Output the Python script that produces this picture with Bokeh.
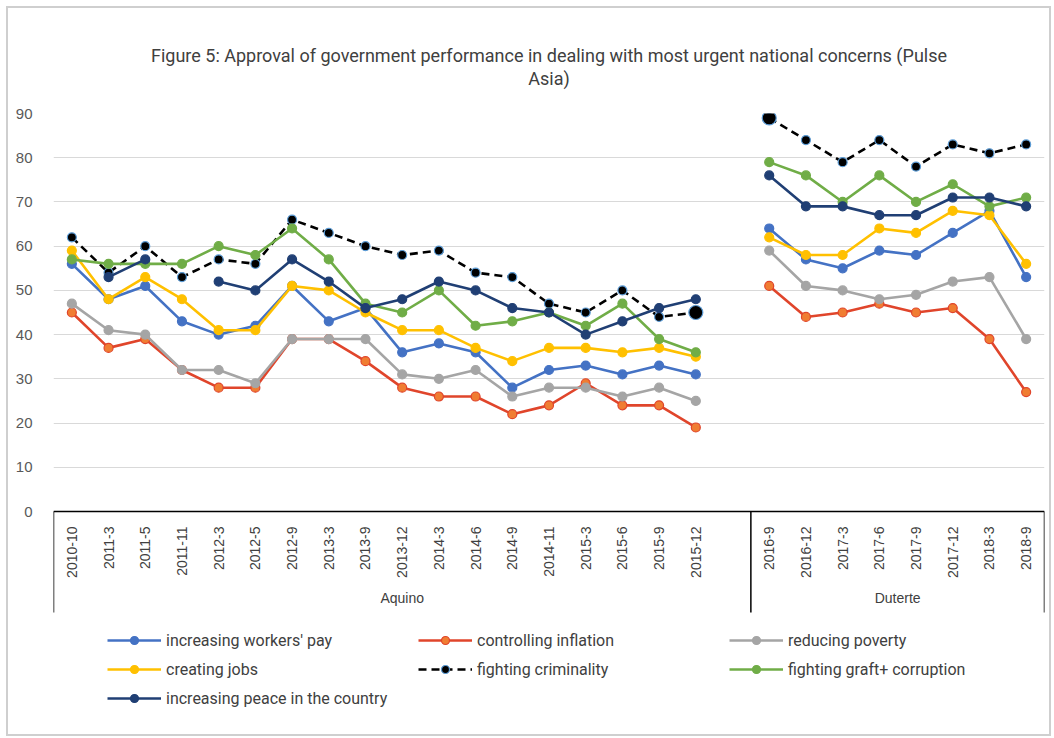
import math
from bokeh.plotting import figure
from bokeh.models import (FactorRange, Range1d, Legend, LegendItem, FixedTicker,
                          ColumnDataSource, Title)
from bokeh.embed import file_html
from bokeh.resources import INLINE

NaN = float("nan")

aquino_dates = ["2010-10", "2011-3", "2011-5", "2011-11", "2012-3", "2012-5", "2012-9",
                "2013-3", "2013-9", "2013-12", "2014-3", "2014-6", "2014-9", "2014-11",
                "2015-3", "2015-6", "2015-9", "2015-12"]
duterte_dates = ["2016-9", "2016-12", "2017-3", "2017-6", "2017-9", "2017-12", "2018-3", "2018-9"]
gap_label = " "

workers_pay_aquino = [56, 48, 51, 43, 40, 42, 51, 43, 46, 36, 38, 36, 28, 32, 33, 31, 33, 31]
workers_pay_duterte = [64, 57, 55, 59, 58, 63, 68, 53]
inflation_aquino = [45, 37, 39, 32, 28, 28, 39, 39, 34, 28, 26, 26, 22, 24, 29, 24, 24, 19]
inflation_duterte = [51, 44, 45, 47, 45, 46, 39, 27]
poverty_aquino = [47, 41, 40, 32, 32, 29, 39, 39, 39, 31, 30, 32, 26, 28, 28, 26, 28, 25]
poverty_duterte = [59, 51, 50, 48, 49, 52, 53, 39]
jobs_aquino = [59, 48, 53, 48, 41, 41, 51, 50, 45, 41, 41, 37, 34, 37, 37, 36, 37, 35]
jobs_duterte = [62, 58, 58, 64, 63, 68, 67, 56]
criminality_aquino = [62, 54, 60, 53, 57, 56, 66, 63, 60, 58, 59, 54, 53, 47, 45, 50, 44, 45]
criminality_duterte = [89, 84, 79, 84, 78, 83, 81, 83]
graft_aquino = [57, 56, 56, 56, 60, 58, 64, 57, 47, 45, 50, 42, 43, 45, 42, 47, 39, 36]
graft_duterte = [79, 76, 70, 76, 70, 74, 69, 71]
peace_aquino = [NaN, 53, 57, NaN, 52, 50, 57, 52, 46, 48, 52, 50, 46, 45, 40, 43, 46, 48]
peace_duterte = [76, 69, 69, 67, 67, 71, 71, 69]

series = [
    ("increasing workers' pay", workers_pay_aquino, workers_pay_duterte),
    ("controlling inflation", inflation_aquino, inflation_duterte),
    ("reducing poverty", poverty_aquino, poverty_duterte),
    ("creating jobs", jobs_aquino, jobs_duterte),
    ("fighting criminality", criminality_aquino, criminality_duterte),
    ("fighting graft+ corruption", graft_aquino, graft_duterte),
    ("increasing peace in the country", peace_aquino, peace_duterte),
]

styles = {
    "increasing workers' pay": dict(line="#4472C4", fill="#4472C4", outline="#4472C4", dash="solid"),
    "controlling inflation": dict(line="#E0452B", fill="#F07D32", outline="#E0452B", dash="solid"),
    "reducing poverty": dict(line="#A5A5A5", fill="#A5A5A5", outline="#A5A5A5", dash="solid"),
    "creating jobs": dict(line="#FFC000", fill="#FFC000", outline="#FFC000", dash="solid"),
    "fighting criminality": dict(line="#000000", fill="#000000", outline="#5B9BD5", dash="8 5"),
    "fighting graft+ corruption": dict(line="#70AD47", fill="#70AD47", outline="#70AD47", dash="solid"),
    "increasing peace in the country": dict(line="#203F74", fill="#203F74", outline="#203F74", dash="solid"),
}

factors = ([("Aquino", d) for d in aquino_dates] + [("Aquino", gap_label)]
           + [("Duterte", d) for d in duterte_dates])

data = {"x": factors}
for i, (name, a, d) in enumerate(series):
    data[f"s{i}"] = list(a) + [NaN] + list(d)
source = ColumnDataSource(data)

# layout: the plot frame runs from the 90 gridline down to the figure bottom, so that
# the category axis (fixed at 0) and the legend sit inside it
FIG_H, TOP = 726, 105
Y_TOP = 90
PX_PER_UNIT = 398 / 90          # 90 units over 398 px of plotting height
y_bottom = Y_TOP - (FIG_H - TOP) / PX_PER_UNIT
SEP_DEPTH = 101 / PX_PER_UNIT    # separators reach below the labels

p = figure(width=1041, height=FIG_H,
           x_range=FactorRange(*factors, range_padding=0, group_padding=0,
                               factor_padding=0, subgroup_padding=0),
           y_range=Range1d(y_bottom, Y_TOP),
           output_backend="svg", toolbar_location=None,
           min_border_left=45, min_border_right=5, min_border_top=TOP, min_border_bottom=0,
           styles={"outline": "2px solid #cfcfcf", "margin-left": "8px", "margin-top": "8px"})

p.outline_line_color = None
p.background_fill_color = "white"
p.border_fill_color = "white"

title_font = dict(text_font="Roboto", text_font_size="18px", text_font_style="normal",
                  text_color="#404040", align="center")
p.title.text = ("Figure 5: Approval of government performance in dealing with most urgent "
                "national concerns (Pulse")
for k, v in title_font.items():
    setattr(p.title, k, v)
p.title.offset = -10
p.title.standoff = 0
p.add_layout(Title(text=" ", text_font_size="10px", standoff=12), "above")
p.add_layout(Title(text="Asia)", offset=-10, standoff=0, **title_font), "above")

items = []
for i, (name, a, d) in enumerate(series):
    st = styles[name]
    lr = p.line(x="x", y=f"s{i}", source=source, line_color=st["line"], line_width=2.6,
                line_dash=st["dash"])
    sr = p.scatter(x="x", y=f"s{i}", source=source, size=9, marker="circle",
                   fill_color=st["fill"], line_color=st["outline"], line_width=1.2)
    items.append(LegendItem(label=name, renderers=[lr, sr]))

# enlarged end markers of the criminality series (last Aquino / first Duterte survey)
crim_idx = 4
hx = [("Aquino", aquino_dates[-1]), ("Duterte", duterte_dates[0])]
hy = [series[crim_idx][1][-1], series[crim_idx][2][0]]
p.scatter(x=hx, y=hy, size=14, marker="circle", fill_color="#000000",
          line_color="#5B9BD5", line_width=1.2)

# y axis
ticks = list(range(0, 91, 10))
p.yaxis.ticker = FixedTicker(ticks=ticks)
p.ygrid.ticker = FixedTicker(ticks=ticks[1:])
p.yaxis.axis_line_color = None
p.yaxis.major_tick_line_color = None
p.yaxis.minor_tick_line_color = None
p.yaxis.major_label_text_font = "Liberation Sans"
p.yaxis.major_label_text_font_size = "15px"
p.yaxis.major_label_text_color = "#595959"
p.yaxis.major_label_standoff = 15
p.ygrid.grid_line_color = "#d9d9d9"
p.ygrid.grid_line_width = 1
p.xgrid.grid_line_color = None

# x axis fixed at value 0
xa = p.xaxis[0]
xa.fixed_location = 0
xa.axis_line_color = "black"
xa.axis_line_width = 1.5
xa.major_tick_line_color = None
xa.minor_tick_line_color = None
xa.major_label_orientation = math.pi / 2
xa.major_label_text_font = "Liberation Sans"
xa.major_label_text_font_size = "14px"
xa.major_label_text_color = "#404040"
xa.major_label_standoff = 9
xa.group_text_font = "Liberation Sans"
xa.group_text_font_size = "14px"
xa.group_text_font_style = "normal"
xa.group_text_color = "#404040"
xa.separator_line_color = None

# group boundary lines of the category axis (left edge, Aquino|Duterte, right edge)
bounds = [0, len(aquino_dates) + 1, len(factors)]
p.segment(x0=bounds, y0=[0] * 3, x1=bounds, y1=[-SEP_DEPTH] * 3,
          line_color="black", line_width=1.5)

legend = Legend(items=items, orientation="horizontal", ncols=3, location=(54, 26))
legend.border_line_color = None
legend.background_fill_alpha = 0
legend.label_text_font = "Roboto"
legend.label_text_font_size = "16px"
legend.label_text_color = "#404040"
legend.glyph_width = 54
legend.glyph_height = 20
legend.label_height = 20
legend.label_standoff = 5
legend.label_width = 243
legend.spacing = 9
legend.padding = 0
legend.margin = 0
p.add_layout(legend)

open("out.html", "w").write(file_html(p, INLINE))
